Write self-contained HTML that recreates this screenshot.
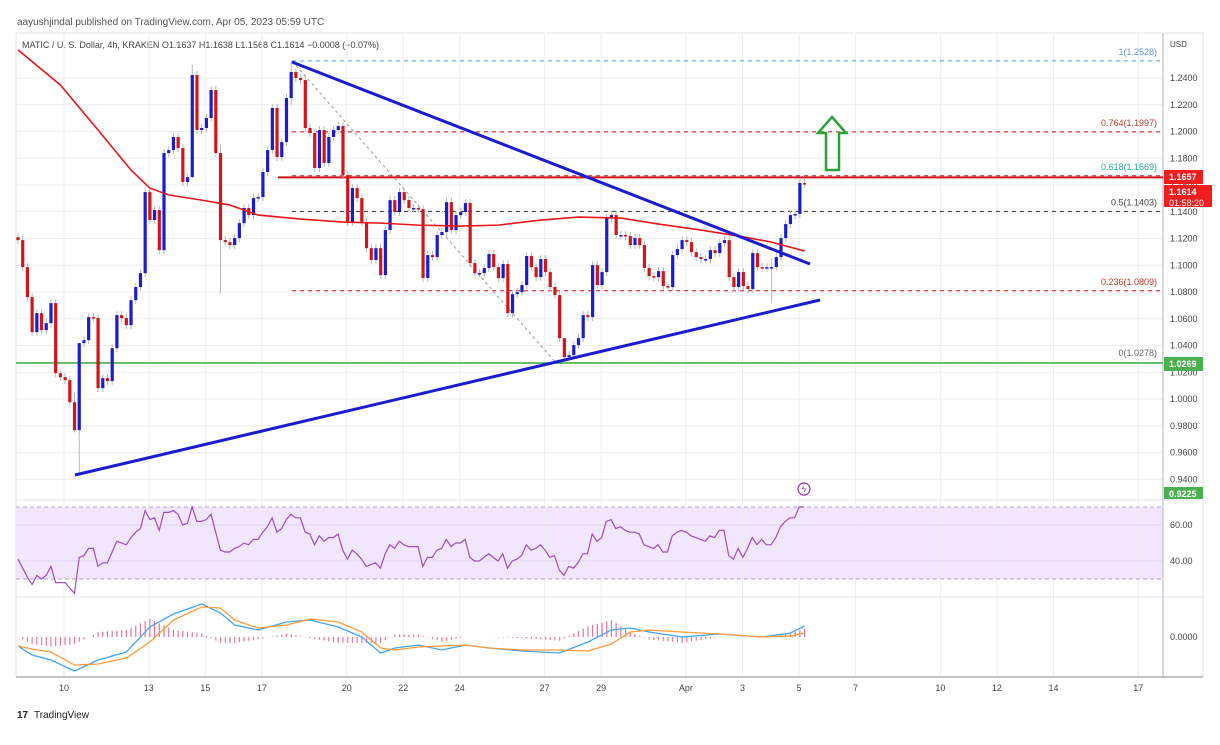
<!DOCTYPE html>
<html><head><meta charset="utf-8">
<style>
body{margin:0;background:#fff;width:1220px;height:740px;overflow:hidden;font-family:"Liberation Sans",sans-serif}
svg text{font-family:"Liberation Sans",sans-serif}
</style></head>
<body>
<svg id="c" width="1220" height="740" xmlns="http://www.w3.org/2000/svg">
<text x="17" y="25" font-size="10" fill="#555">aayushjindal published on TradingView.com, Apr 05, 2023 05:59 UTC</text>
<text x="22" y="48" font-size="9" fill="#444">MATIC / U. S. Dollar, 4h, KRAKEN  O1.1637  H1.1638  L1.1568  C1.1614  −0.0008 (−0.07%)</text>
<text x="34" y="718" font-size="10" fill="#222">TradingView</text>
<text x="17" y="718" font-size="10" font-weight="bold" fill="#222">17</text>
</svg>
<script>
const closes=[1.1188,1.0986,1.0762,1.05,1.0642,1.0515,1.0567,1.0717,1.0193,1.0163,1.0141,0.9976,0.9767,1.0418,1.044,1.0612,1.0605,1.0081,1.0156,1.0134,1.038,1.0627,1.0605,1.0552,1.0739,1.0837,1.0941,1.1547,1.1338,1.1413,1.1113,1.1839,1.1861,1.1959,1.1876,1.1622,1.1659,1.2422,1.2011,1.2026,1.2101,1.231,1.1839,1.1188,1.1173,1.1151,1.1203,1.1315,1.1428,1.1375,1.1502,1.151,1.1697,1.1861,1.2176,1.1809,1.1921,1.225,1.2445,1.24,1.2385,1.2026,1.1989,1.1727,1.2011,1.1764,1.1959,1.2011,1.2041,1.1674,1.1323,1.1577,1.1502,1.1323,1.1128,1.1039,1.1128,1.0926,1.1263,1.1487,1.1398,1.1547,1.1487,1.1428,1.1428,1.142,1.0904,1.1076,1.1061,1.1226,1.1248,1.1472,1.1263,1.1375,1.1398,1.1465,1.1016,1.0941,1.0941,1.0979,1.1084,1.0986,1.0904,1.1009,1.0642,1.0784,1.0799,1.0852,1.1069,1.0986,1.0911,1.1046,1.0949,1.0837,1.0777,1.0455,1.0313,1.0328,1.0403,1.0455,1.0627,1.0612,1.1001,1.0852,1.0949,1.1353,1.1375,1.1226,1.1226,1.1218,1.1151,1.1203,1.1151,1.098,1.0919,1.0911,1.0956,1.0844,1.0837,1.1076,1.1121,1.1188,1.1173,1.1098,1.1061,1.1046,1.1046,1.1113,1.1091,1.1166,1.1188,1.0911,1.0837,1.0949,1.0844,1.0822,1.1091,1.0986,1.0979,1.0986,1.0986,1.1061,1.1203,1.1308,1.1375,1.1383,1.1615,1.1614];
const firstOpen=1.121;
const extremeIdx=[12,13,37,43,58,116,160];
const extremeHigh=[1.005,0.99,1.25,1.19,1.2528,1.045,1.105];
const extremeLow=[0.975,0.943,1.165,1.079,1.22,1.0278,1.072];
const maIdx=[0,9,17,24,28,32,39,45,51,60,69,77,85,94,102,111,119,128,136,145,153,160,167];
const maVals=[1.261,1.2348,1.2011,1.1712,1.1577,1.1525,1.1487,1.145,1.1375,1.1345,1.1323,1.1315,1.13,1.1293,1.13,1.1338,1.136,1.1353,1.1308,1.1263,1.1218,1.1173,1.1106];
const priceTicks=[1.24,1.22,1.20,1.18,1.16,1.14,1.12,1.10,1.08,1.06,1.04,1.02,1.00,0.98,0.96,0.94];
const fibLevels=[1.2528,1.1997,1.1669,1.1403,1.0809,1.0278];
const fibRatios=["1","0.764","0.618","0.5","0.236","0"];
const rsi=[41,36,31,27,32,30,32,37,28,28,28,25,22,42,43,47,47,37,39,39,45,51,50,49,53,56,58,68,63,64,57,67,67,68,66,60,61,70,62,62,63,66,56,46,45,45,47,48,50,49,52,52,56,59,64,56,58,63,66,64,64,56,55,49,54,51,53,53,55,46,41,46,44,41,37,38,39,36,44,49,47,51,49,48,48,48,37,42,42,46,47,52,48,50,50,52,42,40,40,42,44,42,40,44,36,40,41,43,49,46,47,49,46,42,43,35,32,37,36,39,44,44,55,51,53,62,63,58,59,57,56,56,55,49,48,47,49,45,45,54,56,57,56,54,53,52,51,54,53,57,57,43,41,47,42,47,53,49,52,49,49,53,59,62,64,64,70,70];
const macdIdx=[0,3,7,12,17,23,28,33,39,43,46,51,57,62,68,73,77,80,85,90,95,100,107,115,121,126,130,134,141,149,158,164,167];
const macdVals=[-1.5,-3,-3.83,-5.67,-3.83,-2.5,1.67,3.83,5.5,4,2,1.17,2.5,2.83,1.67,0,-2.67,-1.83,-1.33,-2.17,-1.33,-1.83,-2.33,-2.67,-0.83,1.17,1.5,0.83,0,0.5,0,0.67,1.83];
const signalVals=[-1.5,-2,-2.5,-4.67,-4.5,-3.5,-0.83,2.83,5,4.83,2.83,1.5,2,3,2.5,0.83,-1.83,-2.17,-1.67,-1.5,-1.33,-1.83,-2.17,-2.17,-2.33,-1.17,0.83,1.17,0.83,0.5,0,0.17,0.67];
const dateLabels=["10","13","15","17","20","22","24","27","29","Apr","3","5","7","10","12","14","17"];
const dateDays=[10,13,15,17,20,22,24,27,29,32,34,36,38,41,43,45,48];

const NS="http://www.w3.org/2000/svg";
const svg=document.getElementById('c');
function mk(tag,attrs,parent){const e=document.createElementNS(NS,tag);for(const k in attrs)e.setAttribute(k,attrs[k]);(parent||svg).appendChild(e);return e;}
const L=16,R=1163;
const yP=p=>78+(1.24-p)*1337.5;
const xI=i=>18+i*4.71;
const xD=d=>64+(d-10)*28.27;
const yRSI=v=>507+(70-v)*1.8;
const yM=v=>637-v*6;

// frame
let f=mk('rect',{x:L,y:33,width:1187,height:644,fill:'none',stroke:'#e0e3eb'});

// rsi band
let band=mk('rect',{x:L,y:yRSI(70),width:R-L,height:yRSI(30)-yRSI(70),fill:'#f1e6fd'});

// vertical grid
dateDays.forEach((d,k)=>{const x=xD(d);
 const g=mk('line',{x1:x,x2:x,y1:33,y2:677,stroke:'#eceef2'});
 
 const t=mk('text',{x:x,y:691,'font-size':9,fill:'#444','text-anchor':'middle'});t.textContent=dateLabels[k];
 });
// horizontal grid + price labels
priceTicks.forEach(p=>{const y=yP(p);
 const g=mk('line',{x1:L,x2:R,y1:y,y2:y,stroke:'#eceef2'});
 
 const t=mk('text',{x:1170,y:y+3,'font-size':9,fill:'#444'});t.textContent=p.toFixed(4);
 });
[yRSI(60),yRSI(40),yRSI(30),yRSI(70)].forEach((y,k)=>{
 const g=mk('line',{x1:L,x2:R,y1:y,y2:y,stroke:k<2?'#e3d6f3':'#b9a3d3','stroke-dasharray':k<2?'':'4 3'});
 });
[["60.00",60],["40.00",40]].forEach(a=>{const t=mk('text',{x:1170,y:yRSI(a[1])+3,'font-size':9,fill:'#444'});t.textContent=a[0];
 });
let zt=mk('text',{x:1170,y:640,'font-size':9,fill:'#444'});zt.textContent="0.0000";

[500,597].forEach(y=>{const s=mk('line',{x1:L,x2:1203,y1:y,y2:y,stroke:'#e0e3eb'});
 });
let ax=mk('line',{x1:R,x2:R,y1:33,y2:677,stroke:'#b2b5be'});
let bx=mk('line',{x1:L,x2:1203,y1:677,y2:677,stroke:'#888'});
let usd=mk('text',{x:1170,y:47,'font-size':8,fill:'#444'});usd.textContent="USD";

// fib levels
const fibCol=['#5b9bd5','#d0161b','#d0161b','#333','#d0161b','#888'];
const fibTxt=['#5b9bd5','#c0392b','#26a69a','#444','#c0392b','#666'];
fibLevels.forEach((p,k)=>{const y=yP(p);
 if(k<5){const l=mk('line',{x1:292,x2:R,y1:y,y2:y,stroke:fibCol[k],'stroke-dasharray':'4 4','stroke-width':1});
 }
 const t=mk('text',{x:1157,y:y-6,'font-size':9,fill:fibTxt[k],'text-anchor':'end'});t.textContent=fibRatios[k]+"("+p.toFixed(4)+")";
 });
let rl=mk('line',{x1:278,x2:R,y1:yP(1.1657),y2:yP(1.1657),stroke:'#d0161b','stroke-width':2});

let gl=mk('line',{x1:L,x2:R,y1:yP(1.0269),y2:yP(1.0269),stroke:'#3aa63a','stroke-width':1.5});

let dg=mk('line',{x1:292,y1:yP(1.2528),x2:555,y2:yP(1.0278),stroke:'#999','stroke-dasharray':'3 3'});


// candles
let prev=firstOpen;
closes.forEach((c,i)=>{const o=prev;prev=c;const x=xI(i);
 const k=extremeIdx.indexOf(i);
 const hi=k>=0?extremeHigh[k]:Math.max(o,c)+0.003, lo=k>=0?extremeLow[k]:Math.min(o,c)-0.003;
 const col=c>=o?'#1c1ccf':'#d0161b';
 const w=mk('line',{x1:x,x2:x,y1:yP(hi),y2:yP(lo),stroke:'#b8b8b8','stroke-width':1});
 
 const t=Math.min(yP(o),yP(c)),h=Math.max(1.5,Math.abs(yP(o)-yP(c)));
 const b=mk('rect',{x:x-1.6,y:t,width:3.2,height:h,fill:col});
 });
// MA
let ma=mk('polyline',{points:maIdx.map((i,k)=>xI(i)+','+yP(maVals[k])).join(' '),fill:'none',stroke:'#e8161b','stroke-width':1.6});

// trendlines
let t1=mk('line',{x1:292,y1:62,x2:810,y2:264,stroke:'#1c1ccf','stroke-width':3});

let t2=mk('line',{x1:75,y1:475,x2:820,y2:300,stroke:'#1c1ccf','stroke-width':3});

// arrow
let ar=mk('polygon',{points:'832,117 846,133 839,133 839,170 826,170 826,133 818,133',fill:'none',stroke:'#2aa33a','stroke-width':2.5});

// price boxes
function box(y,h,fill,lines,name){const g=mk('g',{});
 mk('rect',{x:1164,y:y,width:(lines.length>1?48:39),height:h,fill:fill},g);
 lines.forEach((s,k)=>{const t=mk('text',{x:1169,y:y+10+k*11,'font-size':9,fill:'#fff','font-weight':k?'normal':'bold'},g);t.textContent=s;});}
box(170,14,'#f21d1d',["1.1657"],'resistance-price-tag');
box(185,22,'#f21d1d',["1.1614","01:58:20"],'last-price-tag');
box(357,14,'#4caf50',["1.0269"],'support-price-tag');
box(487,12,'#4caf50',["0.9225"],'low-price-tag');
// lightning icon
let li=mk('circle',{cx:804,cy:489,r:6,fill:'none',stroke:'#9c27b0','stroke-width':1.2});

let lt=mk('text',{x:804,y:492,'font-size':8,fill:'#9c27b0','text-anchor':'middle'});lt.textContent="ϟ";

// RSI
const rx=i=>18+i*(786/(rsi.length-1));
let rp=mk('polyline',{points:rsi.map((v,i)=>rx(i)+','+yRSI(v)).join(' '),fill:'none',stroke:'#9c4fc0','stroke-width':1.2});

// MACD
function interp(arr,i){for(let k=0;k<macdIdx.length-1;k++){if(i<=macdIdx[k+1]){const a=macdIdx[k],b=macdIdx[k+1],t=(i-a)/(b-a);return arr[k]+(arr[k+1]-arr[k])*t;}}return arr[arr.length-1];}
for(let i=0;i<closes.length;i++){const hv=(interp(macdVals,i)-interp(signalVals,i))*1.2;const x=xI(i);
 const hb=mk('line',{x1:x,x2:x,y1:637,y2:yM(hv),stroke:hv>=0?'#e57399':'#e87aa8','stroke-width':1.2});
 }
let ml=mk('polyline',{points:macdIdx.map((i,k)=>xI(i)+','+yM(macdVals[k])).join(' '),fill:'none',stroke:'#42a5f5','stroke-width':1.3});

let sl=mk('polyline',{points:macdIdx.map((i,k)=>xI(i)+','+yM(signalVals[k])).join(' '),fill:'none',stroke:'#ff9a3c','stroke-width':1.3});

</script>
</body></html>
